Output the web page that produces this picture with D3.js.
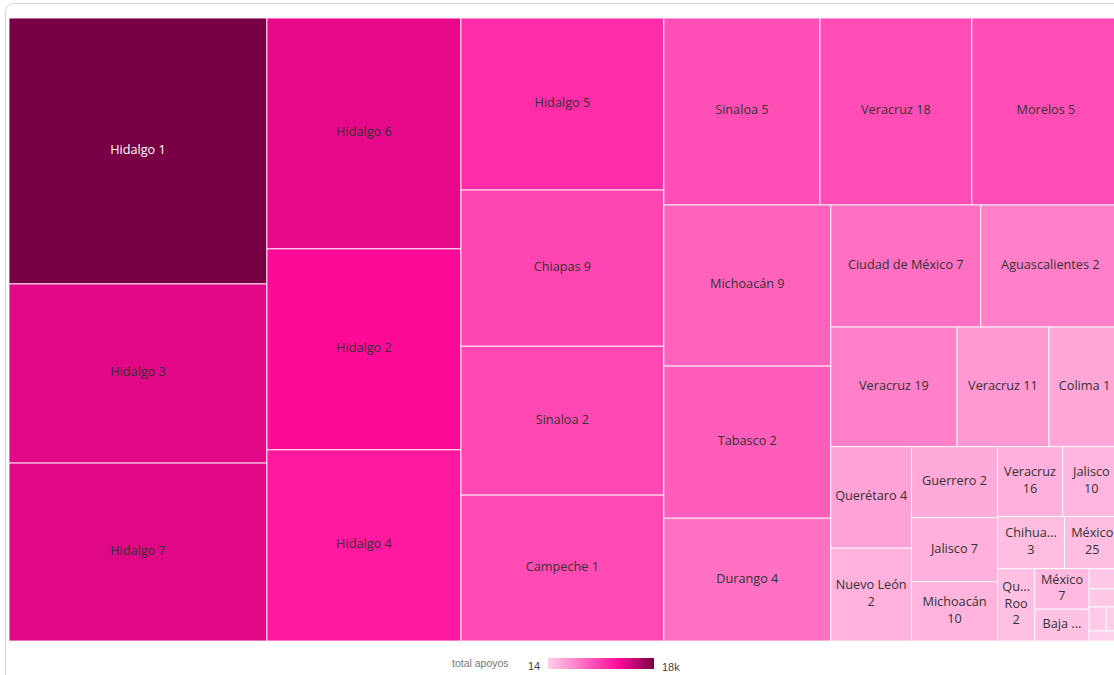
<!DOCTYPE html>
<html>
<head>
<meta charset="utf-8">
<script src="https://cdn.jsdelivr.net/npm/d3@7"></script>
<style>
  body { margin: 0; background: #fff; overflow: hidden; }
</style>
</head>
<body>
<div id="chart"></div>
<script>
// nombre de cada celda, tamaño (área relativa) y total de apoyos (color)
var nombres = ["Hidalgo 1", "Hidalgo 3", "Hidalgo 7", "Hidalgo 6", "Hidalgo 2", "Hidalgo 4",
  "Hidalgo 5", "Chiapas 9", "Sinaloa 2", "Campeche 1", "Sinaloa 5", "Veracruz 18", "Morelos 5",
  "Michoacán 9", "Tabasco 2", "Durango 4", "Ciudad de México 7", "Aguascalientes 2",
  "Veracruz 19", "Veracruz 11", "Colima 1", "Querétaro 4", "Nuevo León 2", "Guerrero 2",
  "Jalisco 7", "Michoacán 10", "Veracruz 16", "Jalisco 10", "Chihuahua 3", "México 25",
  "Quintana Roo 2", "México 7", "Baja California 1", "Sonora 3", "Oaxaca 2", "Yucatán 1",
  "Tlaxcala 2", "Zacatecas 1"];
var tamanos = [686, 462, 459, 448, 390, 371,
  349, 317, 302, 296, 292, 284, 277,
  269, 254, 205, 183, 170,
  151, 110, 85, 82, 75, 61,
  55, 51, 45.5, 40, 35, 29,
  27, 22, 17.3, 6.2, 5.58, 4.14,
  3.3, 3.1];
var apoyos = [18000, 13310, 13400, 13040, 12050, 11160,
  9960, 8400, 8250, 8130, 7810, 7930, 7920,
  6680, 6970, 5710, 5830, 4860,
  4930, 3410, 2560, 2790, 1840, 2320,
  1960, 1700, 1950, 1640, 1170, 1160,
  990, 1460, 860, 500, 420, 350,
  210, 14];
var legendTitle = "total apoyos";
var legendMin = "14";
var legendMax = "18k";

var W = 1114, H = 675;
var svg = d3.select("#chart").append("svg")
  .attr("width", W)
  .attr("height", H)
  .style("font-family", "'Open Sans', sans-serif");

// marco de la tarjeta (se corta por la derecha, igual que la captura)
svg.append("rect")
  .attr("x", 5.5).attr("y", 3.5)
  .attr("width", 1140).attr("height", 720)
  .attr("rx", 8)
  .attr("fill", "#fff")
  .attr("stroke", "#d4d4d4");

var color = d3.scaleLinear()
  .domain([14, 12000, 18000])
  .range(["#ffd0e9", "#ff0a9a", "#7a0046"]);

var data = nombres.map(function (n, i) {
  return {name: n, size: tamanos[i], apoyos: apoyos[i]};
});

var root = d3.hierarchy({children: data}).sum(function (d) { return d.size || 0; });
d3.treemap()
  .tile(d3.treemapSquarify.ratio(1))
  .size([1111, 623])(root);

var g = svg.append("g").attr("transform", "translate(9,18)");

var cell = g.selectAll("g.cell")
  .data(root.leaves())
  .enter().append("g")
  .attr("class", "cell")
  .attr("transform", function (d) { return "translate(" + d.x0 + "," + d.y0 + ")"; });

cell.append("rect")
  .attr("width", function (d) { return d.x1 - d.x0; })
  .attr("height", function (d) { return d.y1 - d.y0; })
  .attr("fill", function (d) { return color(d.data.apoyos); })
  .attr("stroke", "#fff")
  .attr("stroke-opacity", 0.85)
  .attr("stroke-width", 1);

// medidor de texto
var fontSize = 12.7, lineH = 16.5;
var meter = svg.append("text").attr("font-size", fontSize).attr("visibility", "hidden");
function textW(s) { meter.text(s); return meter.node().getComputedTextLength(); }

function truncate(s, maxW) {
  if (textW(s) <= maxW) return s;
  for (var k = s.length - 1; k > 0; k--) {
    var t = s.slice(0, k).trim() + "...";
    if (textW(t) <= maxW - 2) return t;
  }
  return null;
}

function wrapLabel(label, w, h) {
  var maxW = w - 7;
  var maxLines = Math.floor((h - 4) / lineH);
  if (maxLines < 1 || maxW < 12) return [];
  var words = label.split(" ");
  var lines = [], cur = words[0];
  for (var i = 1; i < words.length; i++) {
    if (textW(cur + " " + words[i]) <= maxW) cur += " " + words[i];
    else { lines.push(cur); cur = words[i]; }
  }
  lines.push(cur);
  lines = lines.map(function (l) { return truncate(l, maxW); });
  if (lines.length > maxLines) {
    lines = lines.slice(0, maxLines);
    var last = lines[maxLines - 1];
    lines[maxLines - 1] = textW(last + " ...") <= maxW ? last + " ..." : truncate(last + "...", maxW);
  }
  if (lines.some(function (l) { return l === null; })) return [];
  return lines;
}

cell.each(function (d) {
  var w = d.x1 - d.x0, h = d.y1 - d.y0;
  var lines = wrapLabel(d.data.name, w, h);
  if (!lines.length) return;
  var dark = d3.hsl(color(d.data.apoyos)).l < 0.3;
  var t = d3.select(this).append("text")
    .attr("text-anchor", "middle")
    .attr("font-size", fontSize)
    .attr("fill", dark ? "#fff" : "#333");
  lines.forEach(function (l, i) {
    t.append("tspan")
      .attr("x", w / 2)
      .attr("y", h / 2 - 1.5 + (i - (lines.length - 1) / 2) * lineH)
      .attr("dy", "0.35em")
      .text(l);
  });
});
meter.remove();

// leyenda
var legend = svg.append("g").style("font-family", "'Liberation Sans', Arial, sans-serif");
legend.append("text")
  .attr("x", 452).attr("y", 667)
  .attr("font-size", 10.5)
  .attr("fill", "#777")
  .text(legendTitle);
legend.append("text")
  .attr("x", 528).attr("y", 670)
  .attr("font-size", 11)
  .attr("fill", "#444")
  .text(legendMin);
legend.append("text")
  .attr("x", 662).attr("y", 671)
  .attr("font-size", 11)
  .attr("fill", "#444")
  .text(legendMax);

var lx = d3.scaleLinear().domain([0, 53]).range([14, 18000]);
legend.selectAll("rect.step")
  .data(d3.range(53))
  .enter().append("rect")
  .attr("class", "step")
  .attr("x", function (i) { return 548 + i * 2; })
  .attr("y", 658)
  .attr("width", 2)
  .attr("height", 11)
  .attr("fill", function (i) { return color(lx(i + 0.5)); });
</script>
</body>
</html>
